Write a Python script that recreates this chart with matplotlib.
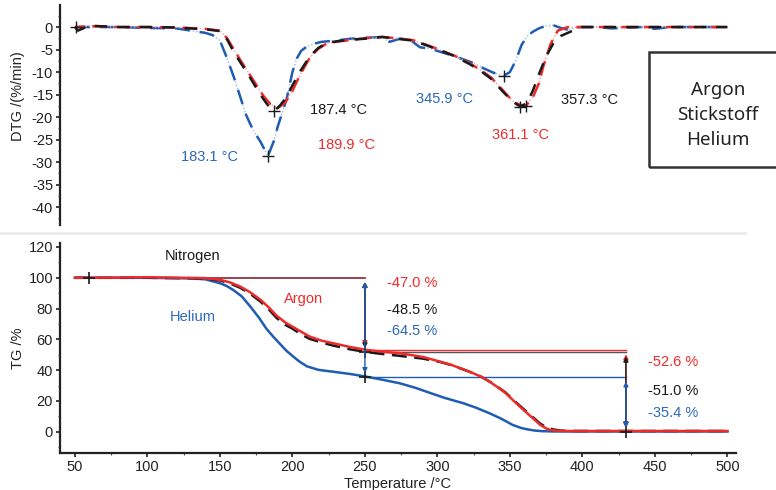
import matplotlib

matplotlib.use("Agg")
import matplotlib.pyplot as plt
from matplotlib.lines import Line2D
from matplotlib.patches import Rectangle
from matplotlib.ticker import MultipleLocator

plt.rcParams["font.family"] = ["Liberation Sans", "DejaVu Sans"]
plt.rcParams["axes.unicode_minus"] = False

RED = "#ee2a2a"
BLACK = "#1a1a1a"
BLUE = "#1f5cb3"
TXT_BLUE = "#2d68bd"

# ---- DTG data (%/min) ----
dtg_ar_t = [50, 60, 80, 100, 120, 140, 150, 155, 160, 165, 170, 175, 180, 185, 189.9, 195, 200,
            205, 212, 218, 224, 232, 240, 250, 262, 272, 283, 292, 302, 312, 322, 330, 337, 345,
            352, 357, 361.1, 366, 370, 373, 378, 383, 390, 400, 420, 450, 480, 500]
dtg_ar = [0, 0.2, 0, 0, -0.1, -0.4, -0.8, -2.5, -5.2, -7.8, -10.3, -12.8, -15.3, -17.2, -18.0,
          -16.8, -14.2, -10.8, -6.8, -4.8, -3.6, -3.2, -2.9, -2.5, -2.2, -2.5, -2.9, -3.9, -5.1,
          -6.4, -8.0, -9.6, -11.2, -14.0, -16.5, -17.3, -17.5, -15.5, -12.5, -8.8, -3.8, -0.8,
          0, 0, 0, 0, 0, 0]

dtg_n2_t = [50, 52, 60, 80, 100, 120, 140, 150, 155, 160, 165, 170, 175, 180, 184, 187.4, 191,
            195, 200, 205, 212, 218, 224, 232, 240, 250, 262, 272, 283, 292, 302, 312, 322, 330,
            337, 345, 352, 357.3, 362, 366, 370, 375, 380, 385, 392, 400, 420, 450, 480, 500]
dtg_n2 = [0, -0.8, 0.3, 0, 0, -0.1, -0.5, -0.9, -2.8, -5.8, -8.3, -10.8, -13.5, -16.0, -17.8,
          -18.6, -17.6, -16.0, -13.0, -10.0, -6.5, -4.6, -3.5, -3.1, -2.8, -2.6, -2.2, -2.6, -3.0,
          -4.0, -5.2, -6.5, -8.2, -9.8, -11.5, -14.3, -16.6, -17.7, -16.8, -14.0, -10.5, -6.5,
          -3.6, -2.0, -1.0, 0, 0, 0, 0, 0]

dtg_he_t = [50, 60, 80, 100, 120, 130, 140, 145, 150, 155, 160, 164, 168, 173, 178, 183.1, 187,
            190, 193, 196, 200, 203, 206, 210, 215, 220, 230, 240, 250, 262, 267, 274, 281, 288,
            295, 302, 310, 318, 325, 332, 339, 345.9, 350, 354, 358, 362, 366, 370, 375, 380,
            385, 390, 398, 410, 420, 440, 450, 460, 480, 500]
dtg_he = [0, 0, 0, -0.2, -0.3, -0.8, -1.3, -1.8, -3.0, -7.0, -11.5, -15.5, -19.5, -23.0, -25.5,
          -28.7, -25.5, -22.0, -19.0, -16.0, -10.0, -7.0, -5.3, -4.3, -3.7, -3.3, -3.0, -2.6,
          -2.4, -2.2, -3.3, -2.6, -2.8, -4.5, -4.8, -5.5, -6.3, -7.2, -8.0, -9.2, -10.2, -10.8,
          -10.0, -7.5, -4.0, -2.0, -1.0, -0.3, 0.3, 0.4, -0.2, -0.6, 0, 0, -0.3, 0, -0.4, 0, 0,
          0]

# peak markers (T, DTG) and labels
dtg_peaks_t = [51, 187.4, 183.1, 345.9, 357.3, 361.1]
dtg_peaks_v = [0, -18.6, -28.7, -10.8, -17.7, -17.5]
dtg_labels = ["187.4 °C", "189.9 °C", "183.1 °C", "345.9 °C", "357.3 °C", "361.1 °C"]
dtg_label_x = [231.5, 237, 143, 305, 405, 357]
dtg_label_y = [-18.4, -26.2, -28.9, -16.0, -16.2, -24.0]
dtg_label_c = [BLACK, RED, TXT_BLUE, TXT_BLUE, BLACK, RED]

# ---- TG data (%) ----
tg_ar_t = [50, 100, 140, 150, 157, 164, 171, 178, 184, 189, 195, 200, 206, 212, 220, 228, 240,
           251, 262, 274, 290, 302, 310, 318, 324, 330, 336, 341, 347, 352, 357, 362, 367, 371,
           375, 378, 383, 390, 420, 460, 500]
tg_ar = [100, 100.3, 99.8, 98.7, 97.0, 94.3, 90.5, 85.7, 80.5, 75.5, 71.0, 68.3, 65.0, 61.8,
         59.2, 57.5, 55.0, 53.2, 52.0, 51.0, 48.6, 45.5, 43.3, 40.5, 38.3, 35.8, 32.5, 29.3,
         25.2, 20.6, 16.2, 12.0, 7.8, 4.4, 2.2, 1.2, 0.7, 0.5, 0.5, 0.5, 0.5]

tg_n2_t = [50, 100, 140, 150, 157, 164, 171, 178, 184, 189, 195, 200, 206, 212, 220, 228, 240,
           251, 262, 274, 290, 302, 310, 318, 324, 330, 336, 341, 347, 352, 357, 362, 367, 371,
           375, 380, 385, 390, 420, 460, 500]
tg_n2 = [100, 100, 99.6, 98.3, 96.3, 93.5, 89.5, 84.5, 79.2, 74.0, 69.5, 67.0, 63.2, 60.3,
         58.0, 56.0, 53.5, 51.8, 50.5, 49.3, 47.5, 45.3, 43.2, 40.4, 38.3, 35.8, 32.6, 29.5,
         25.5, 21.0, 16.8, 12.6, 8.5, 5.2, 3.0, 1.5, 0.8, 0.5, 0.5, 0.5, 0.5]

tg_he_t = [50, 100, 130, 140, 150, 155, 159, 165, 171, 177, 182, 187, 192, 196, 201, 205, 210,
           218, 228, 240, 251, 262, 274, 285, 295, 305, 318, 327, 336, 344, 352, 358, 362, 367,
           372, 380, 400, 450, 500]
tg_he = [100, 100, 99.6, 99.0, 96.5, 94.5, 92.2, 88.0, 81.3, 74.0, 67.0, 61.5, 56.5, 52.5,
         48.5, 45.5, 42.5, 40.2, 39.0, 37.5, 35.8, 33.8, 31.5, 28.5, 25.2, 22.0, 18.5, 15.5,
         12.0, 8.5, 4.4, 2.4, 1.6, 0.8, 0.4, 0.2, 0.2, 0.2, 0.2]

# step evaluation
step1_t = 250
step2_t = 430
step_start_t = 50
step_levels = [53.0, 51.5, 35.4]  # Argon, Nitrogen, Helium residual after step 1
step_colors = [RED, "#555555", BLUE]
step1_labels = ["-47.0 %", "-48.5 %", "-64.5 %"]
step1_label_y = [96.5, 79.2, 65.5]
step2_labels = ["-52.6 %", "-51.0 %", "-35.4 %"]
step2_label_y = [45.5, 26.5, 12.0]
label_colors = [RED, BLACK, TXT_BLUE]

fig = plt.figure(figsize=(7.76, 4.9), dpi=100)
ax1 = fig.add_axes([0.0773, 0.5408, 0.8711, 0.449])
ax2 = fig.add_axes([0.0773, 0.0761, 0.8711, 0.428])

# ---- DTG panel ----
ax1.plot(dtg_he_t, dtg_he, color="#9db8e0", lw=1.0, ls=(0, (1, 1.5)))
ax1.plot(dtg_he_t, dtg_he, color=BLUE, lw=1.8, ls=(0, (6, 4)))
ax1.plot(dtg_ar_t, dtg_ar, color="#f5a0a0", lw=1.0, ls=(0, (1, 1.5)))
ax1.plot(dtg_ar_t, dtg_ar, color=RED, lw=1.8, ls=(2, (6, 3)))
ax1.plot(dtg_n2_t, dtg_n2, color=BLACK, lw=1.8, ls=(0, (5, 4)))
ax1.plot(dtg_peaks_t, dtg_peaks_v, ls="none", marker="+", ms=8, mew=1.0, color=BLACK)
for lab, x, y, c in zip(dtg_labels, dtg_label_x, dtg_label_y, dtg_label_c):
    ax1.text(x, y, lab, color=c, fontsize=10.5, ha="center", va="center")

ax1.set_xlim(39.7, 505.9)
ax1.set_ylim(-44, 4.9)
ax1.yaxis.set_major_locator(MultipleLocator(5))
ax1.yaxis.set_minor_locator(MultipleLocator(2.5))
ax1.set_xticks([])
for s in ["top", "right", "bottom"]:
    ax1.spines[s].set_visible(False)

# ---- TG panel ----
for lvl, c in zip(step_levels, step_colors):
    ax2.plot([step1_t, step2_t], [lvl, lvl], color=c, lw=1.0)
# overlapping start lines at 100 % look maroon
ax2.plot([step_start_t, step1_t], [100, 100], color="#8a2232", lw=1.2)

ax2.plot(tg_he_t, tg_he, color=BLUE, lw=1.8)
ax2.plot(tg_n2_t, tg_n2, color=BLACK, lw=1.8, ls=(0, (6, 3)))
ax2.plot(tg_ar_t, tg_ar, color=RED, lw=1.8)

for lvl, c in zip(step_levels, [RED, BLACK, BLUE]):
    ax2.annotate("", xy=(step1_t, lvl), xytext=(step1_t, 100),
                 arrowprops=dict(arrowstyle="<|-|>", color=c, lw=1.0, shrinkA=3, shrinkB=3,
                                 mutation_scale=7))
    ax2.annotate("", xy=(step2_t, 0), xytext=(step2_t, lvl),
                 arrowprops=dict(arrowstyle="<|-|>", color=c, lw=1.0, shrinkA=3, shrinkB=3,
                                 mutation_scale=7))

ax2.plot([60, step1_t, step1_t, step2_t], [100, 52, 35.4, 0], ls="none", marker="+",
         ms=9, mew=1.2, color=BLACK)

for lab, y, c in zip(step1_labels, step1_label_y, label_colors):
    ax2.text(265, y, lab, color=c, fontsize=10.5, ha="left", va="center")
for lab, y, c in zip(step2_labels, step2_label_y, label_colors):
    ax2.text(445, y, lab, color=c, fontsize=10.5, ha="left", va="center")

ax2.text(131, 114, "Nitrogen", color=BLACK, fontsize=10.5, ha="center", va="center")
ax2.text(208, 86, "Argon", color=RED, fontsize=10.5, ha="center", va="center")
ax2.text(131, 74.6, "Helium", color=TXT_BLUE, fontsize=10.5, ha="center", va="center")

ax2.set_xlim(39.7, 505.9)
ax2.set_ylim(-13.6, 122.6)
ax2.xaxis.set_major_locator(MultipleLocator(50))
ax2.xaxis.set_minor_locator(MultipleLocator(25))
ax2.yaxis.set_major_locator(MultipleLocator(20))
ax2.yaxis.set_minor_locator(MultipleLocator(10))
for s in ["top", "right"]:
    ax2.spines[s].set_visible(False)

for ax in (ax1, ax2):
    for s in ax.spines.values():
        s.set_linewidth(1.6)
        s.set_color("#222222")
    ax.tick_params(which="major", length=3, width=1.2, labelsize=10.5, colors="#222222",
                   pad=2)
    ax.tick_params(which="minor", length=1.5, width=0.8, colors="#555555")
    ax.patch.set_visible(False)

fig.text(0.023, 1 - 96 / 490, "DTG /(%/min)", rotation=90, fontsize=10.5,
         ha="center", va="center", color="#222222")
fig.text(0.023, 1 - 348 / 490, "TG /%", rotation=90, fontsize=10.5,
         ha="center", va="center", color="#222222")
fig.text(398 / 776, 1 - 484 / 490, "Temperature /°C", fontsize=10.5,
         ha="center", va="center", color="#222222")

# separator between panels
fig.add_artist(Line2D([0, 745 / 776], [1 - 233 / 490] * 2, color="#ebebeb", lw=2))

# legend box
fig.add_artist(Rectangle((649 / 776, 1 - 167 / 490), 150 / 776, 115 / 490,
                         transform=fig.transFigure, fill=False, edgecolor="#333333",
                         lw=1.8))
for name, py in zip(["Argon", "Stickstoff", "Helium"], [90, 115, 140]):
    fig.text(718 / 776, 1 - py / 490, name, fontsize=13.5, ha="center", va="center",
             color="#222222", family=["Noto Sans", "DejaVu Sans"])

fig.savefig("out.png", dpi=100)
